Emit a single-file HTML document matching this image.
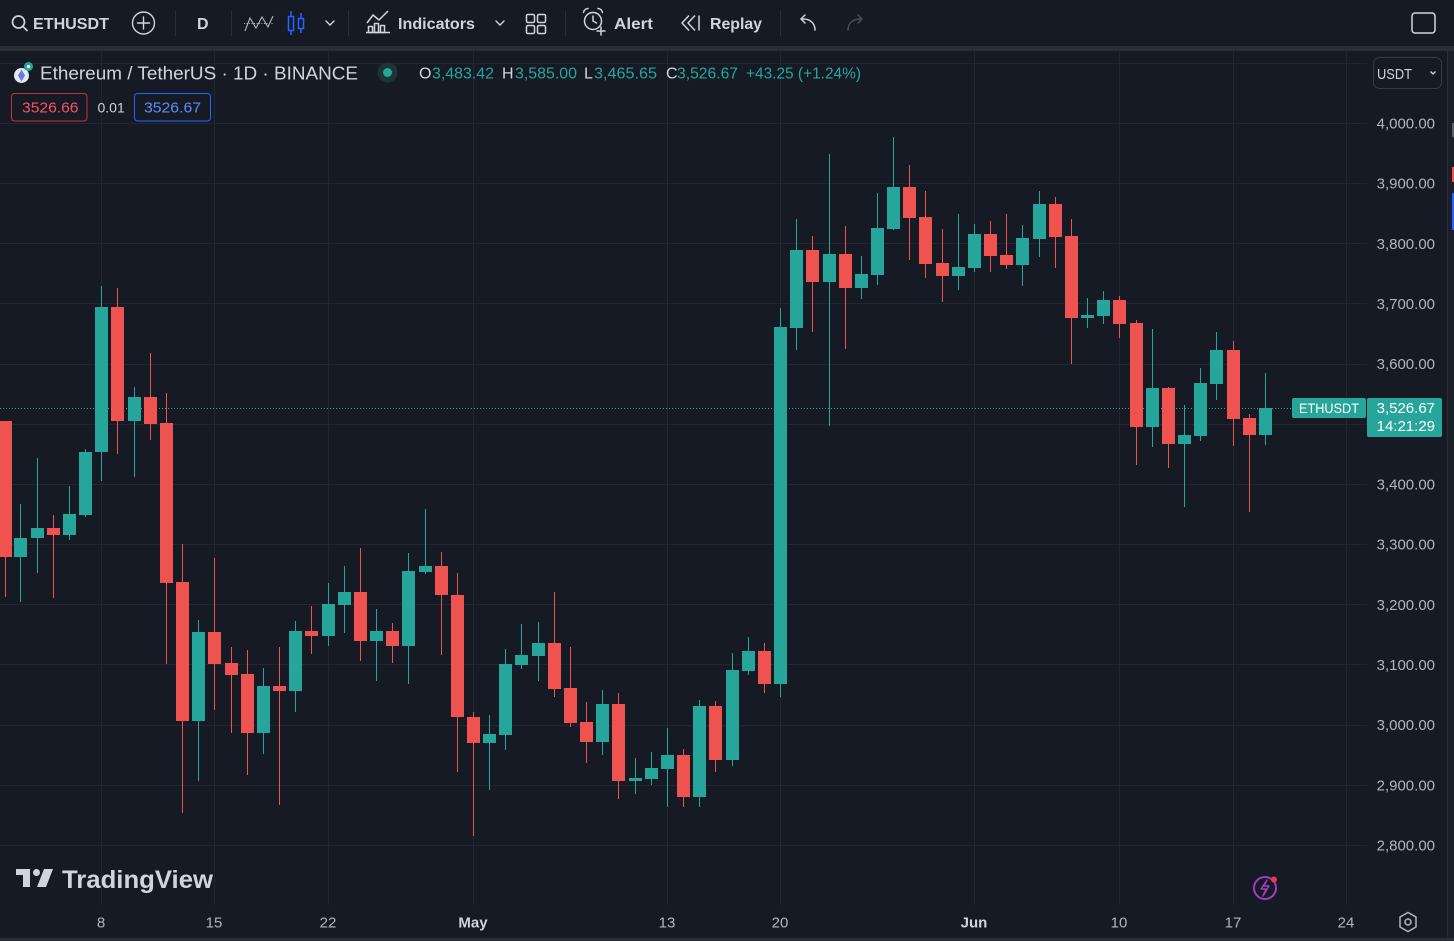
<!DOCTYPE html>
<html><head><meta charset="utf-8"><style>
html,body{margin:0;padding:0;background:#161a25;}
body{width:1454px;height:941px;overflow:hidden;}
svg{display:block;}
</style></head><body>
<svg width="1454" height="941" viewBox="0 0 1454 941" xmlns="http://www.w3.org/2000/svg" font-family="'Liberation Sans', Arial, sans-serif">
<rect x="0" y="0" width="1454" height="941" fill="#161a25"/>
<!-- toolbar separator band -->
<rect x="0" y="46" width="1454" height="5" fill="#2a2e39"/>
<!-- right edge strip -->
<rect x="1447" y="51" width="7" height="890" fill="#1b1f2a"/>
<rect x="1447" y="51" width="1" height="890" fill="#2a2e39"/>
<rect x="1452" y="123" width="2" height="14" fill="#5d606b"/>
<rect x="1452" y="167" width="2" height="15" fill="#ef5350"/>
<rect x="1452" y="193" width="2" height="37" fill="#2962ff"/>
<!-- bottom strip -->
<rect x="0" y="938" width="1454" height="3" fill="#2a2e39"/>

<!-- gridlines -->
<g fill="#222632" shape-rendering="crispEdges">
<rect x="0" y="63" width="1367" height="1"/>
<rect x="0" y="123" width="1367" height="1"/>
<rect x="0" y="183" width="1367" height="1"/>
<rect x="0" y="243" width="1367" height="1"/>
<rect x="0" y="303" width="1367" height="1"/>
<rect x="0" y="364" width="1367" height="1"/>
<rect x="0" y="424" width="1367" height="1"/>
<rect x="0" y="484" width="1367" height="1"/>
<rect x="0" y="544" width="1367" height="1"/>
<rect x="0" y="604" width="1367" height="1"/>
<rect x="0" y="664" width="1367" height="1"/>
<rect x="0" y="725" width="1367" height="1"/>
<rect x="0" y="785" width="1367" height="1"/>
<rect x="0" y="845" width="1367" height="1"/>
<rect x="101" y="51" width="1" height="854"/>
<rect x="214" y="51" width="1" height="854"/>
<rect x="328" y="51" width="1" height="854"/>
<rect x="473" y="51" width="1" height="854"/>
<rect x="667" y="51" width="1" height="854"/>
<rect x="780" y="51" width="1" height="854"/>
<rect x="974" y="51" width="1" height="854"/>
<rect x="1119" y="51" width="1" height="854"/>
<rect x="1233" y="51" width="1" height="854"/>
<rect x="1346" y="51" width="1" height="854"/>
</g>

<!-- current price dotted line -->
<line x1="0" y1="408.5" x2="1292" y2="408.5" stroke="#26a69a" stroke-width="1" stroke-dasharray="1 2"/>

<!-- candles -->
<g shape-rendering="crispEdges">
<g fill="#ef5350">
<rect x="5" y="421" width="1" height="176"/><rect x="-1" y="421" width="13" height="136"/>
<rect x="53" y="515" width="1" height="83"/><rect x="47" y="528" width="13" height="7"/>
<rect x="117" y="288" width="1" height="166"/><rect x="111" y="307" width="13" height="114"/>
<rect x="150" y="353" width="1" height="87"/><rect x="144" y="397" width="13" height="27"/>
<rect x="166" y="393" width="1" height="271"/><rect x="160" y="423" width="13" height="160"/>
<rect x="182" y="544" width="1" height="269"/><rect x="176" y="582" width="13" height="139"/>
<rect x="214" y="558" width="1" height="152"/><rect x="208" y="632" width="13" height="32"/>
<rect x="231" y="647" width="1" height="86"/><rect x="225" y="663" width="13" height="12"/>
<rect x="247" y="650" width="1" height="125"/><rect x="241" y="674" width="13" height="59"/>
<rect x="279" y="647" width="1" height="158"/><rect x="273" y="686" width="13" height="5"/>
<rect x="311" y="606" width="1" height="48"/><rect x="305" y="631" width="13" height="5"/>
<rect x="360" y="548" width="1" height="113"/><rect x="354" y="592" width="13" height="49"/>
<rect x="392" y="623" width="1" height="40"/><rect x="386" y="631" width="13" height="15"/>
<rect x="441" y="552" width="1" height="103"/><rect x="435" y="566" width="13" height="29"/>
<rect x="457" y="573" width="1" height="199"/><rect x="451" y="595" width="13" height="122"/>
<rect x="473" y="712" width="1" height="124"/><rect x="467" y="717" width="13" height="26"/>
<rect x="554" y="592" width="1" height="105"/><rect x="548" y="643" width="13" height="46"/>
<rect x="570" y="647" width="1" height="80"/><rect x="564" y="688" width="13" height="35"/>
<rect x="586" y="702" width="1" height="61"/><rect x="580" y="722" width="13" height="20"/>
<rect x="618" y="693" width="1" height="106"/><rect x="612" y="704" width="13" height="77"/>
<rect x="683" y="749" width="1" height="58"/><rect x="677" y="755" width="13" height="42"/>
<rect x="715" y="701" width="1" height="71"/><rect x="709" y="706" width="13" height="54"/>
<rect x="764" y="643" width="1" height="50"/><rect x="758" y="651" width="13" height="33"/>
<rect x="812" y="236" width="1" height="96"/><rect x="806" y="250" width="13" height="32"/>
<rect x="845" y="226" width="1" height="123"/><rect x="839" y="254" width="13" height="34"/>
<rect x="909" y="165" width="1" height="95"/><rect x="903" y="187" width="13" height="31"/>
<rect x="925" y="191" width="1" height="87"/><rect x="919" y="217" width="13" height="47"/>
<rect x="942" y="229" width="1" height="73"/><rect x="936" y="263" width="13" height="13"/>
<rect x="990" y="221" width="1" height="51"/><rect x="984" y="234" width="13" height="22"/>
<rect x="1006" y="214" width="1" height="55"/><rect x="1000" y="255" width="13" height="10"/>
<rect x="1055" y="197" width="1" height="71"/><rect x="1049" y="204" width="13" height="33"/>
<rect x="1071" y="219" width="1" height="145"/><rect x="1065" y="236" width="13" height="82"/>
<rect x="1119" y="296" width="1" height="42"/><rect x="1113" y="300" width="13" height="24"/>
<rect x="1136" y="320" width="1" height="145"/><rect x="1130" y="323" width="13" height="104"/>
<rect x="1168" y="387" width="1" height="81"/><rect x="1162" y="388" width="13" height="56"/>
<rect x="1233" y="341" width="1" height="105"/><rect x="1227" y="350" width="13" height="69"/>
<rect x="1249" y="414" width="1" height="98"/><rect x="1243" y="418" width="13" height="17"/>
</g>
<g fill="#26a69a">
<rect x="20" y="504" width="1" height="98"/><rect x="14" y="538" width="13" height="19"/>
<rect x="37" y="458" width="1" height="115"/><rect x="31" y="528" width="13" height="10"/>
<rect x="69" y="486" width="1" height="54"/><rect x="63" y="514" width="13" height="21"/>
<rect x="85" y="449" width="1" height="68"/><rect x="79" y="452" width="13" height="63"/>
<rect x="101" y="286" width="1" height="195"/><rect x="95" y="307" width="13" height="145"/>
<rect x="134" y="387" width="1" height="90"/><rect x="128" y="397" width="13" height="24"/>
<rect x="198" y="620" width="1" height="161"/><rect x="192" y="632" width="13" height="89"/>
<rect x="263" y="668" width="1" height="86"/><rect x="257" y="686" width="13" height="47"/>
<rect x="295" y="621" width="1" height="91"/><rect x="289" y="631" width="13" height="60"/>
<rect x="328" y="583" width="1" height="63"/><rect x="322" y="604" width="13" height="32"/>
<rect x="344" y="566" width="1" height="67"/><rect x="338" y="592" width="13" height="13"/>
<rect x="376" y="609" width="1" height="72"/><rect x="370" y="631" width="13" height="10"/>
<rect x="408" y="553" width="1" height="131"/><rect x="402" y="571" width="13" height="75"/>
<rect x="425" y="509" width="1" height="65"/><rect x="419" y="566" width="13" height="6"/>
<rect x="489" y="715" width="1" height="75"/><rect x="483" y="734" width="13" height="9"/>
<rect x="505" y="649" width="1" height="101"/><rect x="499" y="664" width="13" height="71"/>
<rect x="521" y="624" width="1" height="45"/><rect x="515" y="655" width="13" height="10"/>
<rect x="538" y="622" width="1" height="59"/><rect x="532" y="643" width="13" height="13"/>
<rect x="602" y="690" width="1" height="65"/><rect x="596" y="704" width="13" height="38"/>
<rect x="635" y="758" width="1" height="36"/><rect x="629" y="778" width="13" height="3"/>
<rect x="651" y="752" width="1" height="33"/><rect x="645" y="768" width="13" height="11"/>
<rect x="667" y="728" width="1" height="79"/><rect x="661" y="755" width="13" height="14"/>
<rect x="699" y="700" width="1" height="107"/><rect x="693" y="706" width="13" height="91"/>
<rect x="732" y="653" width="1" height="113"/><rect x="726" y="670" width="13" height="90"/>
<rect x="748" y="637" width="1" height="38"/><rect x="742" y="651" width="13" height="20"/>
<rect x="780" y="308" width="1" height="389"/><rect x="774" y="327" width="13" height="357"/>
<rect x="796" y="219" width="1" height="131"/><rect x="790" y="250" width="13" height="78"/>
<rect x="829" y="154" width="1" height="272"/><rect x="823" y="254" width="13" height="28"/>
<rect x="861" y="256" width="1" height="43"/><rect x="855" y="274" width="13" height="14"/>
<rect x="877" y="193" width="1" height="92"/><rect x="871" y="228" width="13" height="47"/>
<rect x="893" y="137" width="1" height="93"/><rect x="887" y="187" width="13" height="42"/>
<rect x="958" y="214" width="1" height="76"/><rect x="952" y="267" width="13" height="9"/>
<rect x="974" y="224" width="1" height="48"/><rect x="968" y="234" width="13" height="34"/>
<rect x="1022" y="225" width="1" height="61"/><rect x="1016" y="238" width="13" height="27"/>
<rect x="1039" y="191" width="1" height="66"/><rect x="1033" y="204" width="13" height="35"/>
<rect x="1087" y="298" width="1" height="30"/><rect x="1081" y="315" width="13" height="3"/>
<rect x="1103" y="291" width="1" height="33"/><rect x="1097" y="300" width="13" height="16"/>
<rect x="1152" y="329" width="1" height="118"/><rect x="1146" y="388" width="13" height="39"/>
<rect x="1184" y="405" width="1" height="102"/><rect x="1178" y="435" width="13" height="9"/>
<rect x="1200" y="368" width="1" height="73"/><rect x="1194" y="383" width="13" height="53"/>
<rect x="1216" y="332" width="1" height="68"/><rect x="1210" y="350" width="13" height="34"/>
<rect x="1265" y="373" width="1" height="72"/><rect x="1259" y="408" width="13" height="27"/>
</g>
</g>

<!-- price axis labels -->
<g fill="#b2b5be" font-size="15" text-anchor="end">
<text x="1435" y="128.5">4,000.00</text>
<text x="1435" y="188.7">3,900.00</text>
<text x="1435" y="248.8">3,800.00</text>
<text x="1435" y="309">3,700.00</text>
<text x="1435" y="369.2">3,600.00</text>
<text x="1435" y="489.5">3,400.00</text>
<text x="1435" y="549.7">3,300.00</text>
<text x="1435" y="609.9">3,200.00</text>
<text x="1435" y="670">3,100.00</text>
<text x="1435" y="730.2">3,000.00</text>
<text x="1435" y="790.4">2,900.00</text>
<text x="1435" y="850.6">2,800.00</text>
</g>

<!-- USDT box -->
<rect x="1373.5" y="57.5" width="68" height="31" rx="6" fill="#161a25" stroke="#363a45" stroke-width="1"/>
<text x="1377" y="79" font-size="15" fill="#d1d4dc" textLength="35" lengthAdjust="spacingAndGlyphs">USDT</text>
<polyline points="1430.5,71.5 1433,74 1435.5,71.5" fill="none" stroke="#d1d4dc" stroke-width="1.3"/>

<!-- price labels -->
<rect x="1292" y="398" width="74" height="20" rx="2" fill="#26a69a"/>
<text x="1329" y="413" font-size="14" fill="#ffffff" text-anchor="middle" textLength="60" lengthAdjust="spacingAndGlyphs">ETHUSDT</text>
<rect x="1367" y="398" width="75" height="39" rx="2" fill="#26a69a"/>
<text x="1435" y="413" font-size="15" fill="#ffffff" text-anchor="end">3,526.67</text>
<text x="1435" y="431" font-size="15" fill="#ffffff" text-anchor="end">14:21:29</text>

<!-- time axis labels -->
<g fill="#b2b5be" font-size="15" text-anchor="middle">
<text x="101" y="927.5">8</text>
<text x="214" y="927.5">15</text>
<text x="328" y="927.5">22</text>
<text x="667" y="927.5">13</text>
<text x="780" y="927.5">20</text>
<text x="1119" y="927.5">10</text>
<text x="1233" y="927.5">17</text>
<text x="1346" y="927.5">24</text>
</g>
<g fill="#d1d4dc" font-size="15" font-weight="bold" text-anchor="middle">
<text x="473" y="927.5">May</text>
<text x="974" y="927.5">Jun</text>
</g>
<!-- settings icon -->
<polygon points="1408,912.5 1416,917 1416,927 1408,931.5 1400,927 1400,917" fill="none" stroke="#b2b5be" stroke-width="1.5"/>
<circle cx="1408" cy="922" r="3" fill="none" stroke="#b2b5be" stroke-width="1.5"/>

<!-- TradingView logo -->
<g fill="#d1d4dc">
<rect x="16" y="869" width="14" height="6"/>
<rect x="23" y="869" width="7" height="18"/>
<circle cx="36.5" cy="872.5" r="3.5"/>
<polygon points="44,869 53,869 46,887 37,887"/>
<text x="62" y="888" font-size="25" font-weight="bold" textLength="151" lengthAdjust="spacingAndGlyphs">TradingView</text>
</g>

<!-- lightning icon -->
<circle cx="1265" cy="888" r="11" fill="none" stroke="#a23cc0" stroke-width="2"/>
<path d="M1267 880 L1261 889 L1266 889 L1263 896 L1269 886 L1264 886 Z" fill="none" stroke="#a23cc0" stroke-width="1.4" stroke-linejoin="round"/>
<circle cx="1274" cy="879.5" r="3" fill="#f23645"/>

<!-- ===== toolbar ===== -->
<g stroke="#d1d4dc" fill="none" stroke-width="1.7" stroke-linecap="round">
<circle cx="18.5" cy="22" r="6"/>
<line x1="22.8" y1="26.3" x2="27" y2="30.5"/>
<circle cx="143.5" cy="23" r="11" stroke-width="1.4"/>
<line x1="137.5" y1="23" x2="149.5" y2="23" stroke-width="1.4"/>
<line x1="143.5" y1="17" x2="143.5" y2="29" stroke-width="1.4"/>
<polyline points="326,21 330,25 334,21" stroke-width="1.4"/>
<polyline points="496,21 500,25 504,21" stroke-width="1.4"/>
</g>
<g stroke="#2a2e39" stroke-width="1">
<line x1="175.5" y1="11" x2="175.5" y2="36"/>
<line x1="231.5" y1="11" x2="231.5" y2="36"/>
<line x1="348.5" y1="11" x2="348.5" y2="36"/>
<line x1="565.5" y1="11" x2="565.5" y2="36"/>
<line x1="780.5" y1="11" x2="780.5" y2="36"/>
</g>
<g fill="#d1d4dc" font-size="16" font-weight="bold">
<text x="33" y="29" textLength="76" lengthAdjust="spacingAndGlyphs">ETHUSDT</text>
<text x="197" y="29">D</text>
<text x="398" y="29" textLength="77" lengthAdjust="spacingAndGlyphs">Indicators</text>
<text x="614" y="29" textLength="39" lengthAdjust="spacingAndGlyphs">Alert</text>
<text x="710" y="29" textLength="52" lengthAdjust="spacingAndGlyphs">Replay</text>
</g>
<!-- bar style icon -->
<line x1="244" y1="23.5" x2="274" y2="23.5" stroke="#b2b5be" stroke-width="1" stroke-dasharray="1 1.5"/>
<polyline points="245,31 250,18 256,28 262,17 268,27 273,16" fill="none" stroke="#b2b5be" stroke-width="1.1"/>
<!-- candle icon -->
<g stroke="#2962ff" stroke-width="1.5" fill="none">
<rect x="288.5" y="16.5" width="5" height="14"/>
<line x1="291" y1="11" x2="291" y2="16.5"/><line x1="291" y1="30.5" x2="291" y2="35"/>
<rect x="298.5" y="18.5" width="5" height="10"/>
<line x1="301" y1="13" x2="301" y2="18.5"/><line x1="301" y1="28.5" x2="301" y2="33"/>
</g>
<!-- indicators icon -->
<g stroke="#d1d4dc" stroke-width="1.5" fill="none" stroke-linejoin="round">
<polyline points="367,23 373,15 379,20 388,11"/>
<rect x="368.5" y="26.5" width="4" height="6"/>
<rect x="374.5" y="23.5" width="4" height="9"/>
<rect x="380.5" y="25.5" width="4" height="7"/>
<line x1="366" y1="32.5" x2="390" y2="32.5"/>
</g>
<!-- grid icon -->
<g stroke="#d1d4dc" stroke-width="1.5" fill="none">
<rect x="526.5" y="14.5" width="8" height="8" rx="1.5"/>
<rect x="537.5" y="14.5" width="8" height="8" rx="1.5"/>
<rect x="526.5" y="25.5" width="8" height="8" rx="1.5"/>
<rect x="537.5" y="25.5" width="8" height="8" rx="1.5"/>
</g>
<!-- alert icon -->
<g stroke="#d1d4dc" stroke-width="1.5" fill="none" stroke-linecap="round">
<circle cx="593" cy="21" r="8.5"/>
<polyline points="593,16 593,21 596.5,23"/>
<path d="M583.5 12.5 A5 5 0 0 1 588 8.5"/>
<path d="M602.5 12.5 A5 5 0 0 0 598 8.5"/>
<line x1="601" y1="27" x2="601" y2="35"/>
<line x1="597" y1="31" x2="605" y2="31"/>
</g>
<!-- replay icon -->
<g stroke="#d1d4dc" stroke-width="1.5" fill="none" stroke-linejoin="round">
<polyline points="689,15.5 682,23 689,30.5"/>
<polyline points="695,15.5 688,23 695,30.5"/>
<line x1="699" y1="15.5" x2="699" y2="30.5"/>
</g>
<!-- undo / redo -->
<g fill="none" stroke-width="1.5" stroke-linecap="round" stroke-linejoin="round">
<path d="M815 30 C815 23 810 19 803 19 L801 19" stroke="#d1d4dc"/>
<polyline points="805,15 801,19 805,23" stroke="#d1d4dc"/>
<path d="M848 30 C848 23 853 19 860 19 L862 19" stroke="#4a4e59"/>
<polyline points="858,15 862,19 858,23" stroke="#4a4e59"/>
</g>
<!-- right square -->
<rect x="1412" y="13" width="23" height="20" rx="3" fill="none" stroke="#d1d4dc" stroke-width="1.5"/>

<!-- ===== legend header ===== -->
<circle cx="21.5" cy="75.5" r="7.5" fill="#e8e9ee"/>
<polygon points="21.5,69.5 25,75.5 21.5,81.5 18,75.5" fill="#627eea"/>
<circle cx="28.5" cy="66.5" r="4.5" fill="#26a69a"/>
<circle cx="28.5" cy="66.5" r="1.6" fill="#ffffff"/>
<text x="40" y="79.5" font-size="18" fill="#d1d4dc" textLength="318" lengthAdjust="spacingAndGlyphs">Ethereum / TetherUS · 1D · BINANCE</text>
<circle cx="387.5" cy="72.5" r="10" fill="#1d3535"/>
<circle cx="387.5" cy="72.5" r="4.5" fill="#22ab94"/>
<g font-size="16">
<text x="419" y="78.5" fill="#d1d4dc">O</text>
<text x="432" y="78.5" fill="#26a69a" textLength="62" lengthAdjust="spacingAndGlyphs">3,483.42</text>
<text x="502" y="78.5" fill="#d1d4dc">H</text>
<text x="515" y="78.5" fill="#26a69a" textLength="62" lengthAdjust="spacingAndGlyphs">3,585.00</text>
<text x="584" y="78.5" fill="#d1d4dc">L</text>
<text x="594" y="78.5" fill="#26a69a" textLength="63" lengthAdjust="spacingAndGlyphs">3,465.65</text>
<text x="666" y="78.5" fill="#d1d4dc">C</text>
<text x="677" y="78.5" fill="#26a69a" textLength="61" lengthAdjust="spacingAndGlyphs">3,526.67</text>
<text x="746" y="78.5" fill="#26a69a" textLength="115" lengthAdjust="spacingAndGlyphs">+43.25 (+1.24%)</text>
</g>
<rect x="11.5" y="93.5" width="75.5" height="27.5" rx="3" fill="#161a25" stroke="#c8313f" stroke-width="1"/>
<text x="22" y="112.5" font-size="15" fill="#f7525f" textLength="56.5" lengthAdjust="spacingAndGlyphs">3526.66</text>
<text x="97.5" y="112.5" font-size="14" fill="#d1d4dc">0.01</text>
<rect x="134.5" y="93.5" width="76" height="27.5" rx="3" fill="#161a25" stroke="#2962ff" stroke-width="1"/>
<text x="144" y="112.5" font-size="15" fill="#5b8df7" textLength="57" lengthAdjust="spacingAndGlyphs">3526.67</text>
</svg>
</body></html>
